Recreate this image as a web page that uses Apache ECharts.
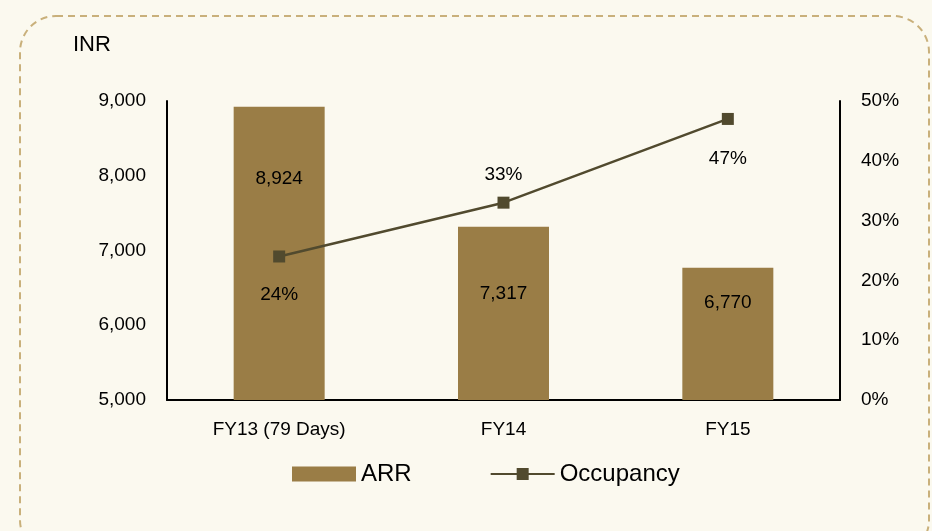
<!DOCTYPE html>
<html><head><meta charset="utf-8">
<script src="https://cdn.jsdelivr.net/npm/echarts@6/dist/echarts.min.js"></script>
<style>html,body{margin:0;padding:0;background:#fbf9ef;}#c{width:932px;height:531px;}</style>
</head><body><div id="c"></div>
<script>
const categories = ['FY13 (79 Days)', 'FY14', 'FY15'];
const arrValues = [8924, 7317, 6770];
const occupancyValues = [24, 33, 47];
const leftTicks = [5000, 6000, 7000, 8000, 9000];
const rightTicks = [0, 10, 20, 30, 40, 50];

// label styling (distances in px), kept separate from data
const barLabelDistances = [63, 57, 26];
const lineLabelPositions = ['bottom', 'top', 'bottom'];
const lineLabelDistances = [23, 12, 24];

const chart = echarts.init(document.getElementById('c'));
const font = '"Liberation Sans", Arial, sans-serif';
const fmt = v => v.toLocaleString('en-US');

chart.setOption({
  backgroundColor: '#fbf9ef',
  animation: false,
  textStyle: { fontFamily: font },
  graphic: [{
    type: 'rect', silent: true, z: 0,
    shape: { x: 20, y: 16, width: 909, height: 540, r: 36 },
    style: { fill: 'none', stroke: '#c9b07b', lineWidth: 2, lineDash: [7, 5] }
  }, {
    type: 'text', left: 73, top: 34,
    style: { text: 'INR', fontSize: 22, fill: '#000', fontFamily: font }
  }],
  grid: { left: 167, right: 92, top: 101, height: 299 },
  legend: {
    top: 462, left: 292, padding: 0, itemGap: 78, itemWidth: 64, itemHeight: 15,
    textStyle: { fontSize: 24, color: '#000', fontFamily: font },
    data: [
      { name: 'ARR', icon: 'rect' },
      { name: 'Occupancy' }
    ]
  },
  xAxis: {
    type: 'category', data: categories,
    axisLine: { lineStyle: { color: '#000', width: 2 } },
    axisTick: { show: false },
    axisLabel: { color: '#000', fontSize: 19, margin: 20, fontFamily: font }
  },
  yAxis: [{
    type: 'value', min: leftTicks[0], max: leftTicks[leftTicks.length - 1], interval: 1000,
    axisLine: { show: true, lineStyle: { color: '#000', width: 2 } },
    axisTick: { show: false }, splitLine: { show: false },
    axisLabel: { color: '#000', fontSize: 19, margin: 21, formatter: v => fmt(v), fontFamily: font }
  }, {
    type: 'value', min: rightTicks[0], max: rightTicks[rightTicks.length - 1], interval: 10,
    axisLine: { show: true, lineStyle: { color: '#000', width: 2 } },
    axisTick: { show: false }, splitLine: { show: false },
    axisLabel: { color: '#000', fontSize: 19, margin: 21, formatter: v => v + '%', fontFamily: font }
  }],
  series: [{
    name: 'ARR', type: 'bar', yAxisIndex: 0, barWidth: 91,
    itemStyle: { color: '#9a7d46' },
    data: arrValues.map((v, i) => ({
      value: v,
      label: { show: true, position: 'insideTop', distance: barLabelDistances[i],
        color: '#000', fontSize: 19, fontFamily: font, formatter: p => fmt(p.value) }
    }))
  }, {
    name: 'Occupancy', type: 'line', yAxisIndex: 1,
    symbol: 'rect', symbolSize: 12,
    lineStyle: { color: '#514a2e', width: 2.5 },
    itemStyle: { color: '#514a2e' },
    data: occupancyValues.map((v, i) => ({
      value: v,
      label: { show: true, position: lineLabelPositions[i],
        distance: lineLabelDistances[i],
        color: '#000', fontSize: 19, fontFamily: font, formatter: p => p.value + '%' }
    }))
  }]
});
</script></body></html>
